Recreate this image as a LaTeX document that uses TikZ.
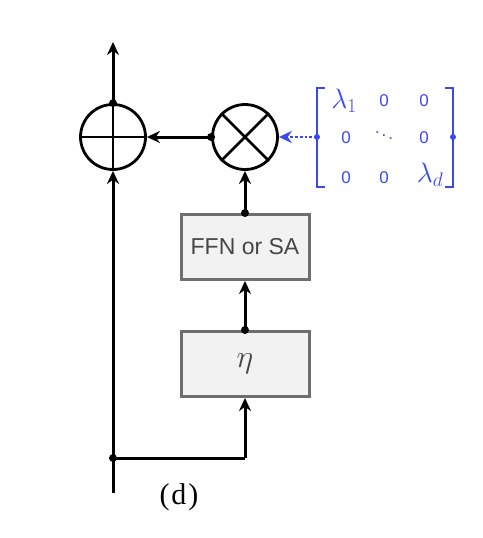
\RequirePackage{fix-cm}
\documentclass[tikz,border=0pt]{standalone}
\usepackage{fontspec}
\setmainfont{Liberation Serif}
\setsansfont{Liberation Sans}
\usetikzlibrary{arrows.meta}
\definecolor{mblue}{RGB}{58,72,240}
\definecolor{boxfill}{RGB}{242,242,242}
\definecolor{boxline}{RGB}{110,110,110}
\definecolor{txtgray}{RGB}{70,70,70}
\tikzset{
  wire/.style={line width=3pt,black},
  arr/.style={wire,-{Stealth[length=13pt,width=12pt]}},
  opcirc/.style={circle,draw,line width=2.8pt,minimum size=65pt,inner sep=0pt},
  blockbox/.style={draw=boxline,fill=boxfill,line width=3pt,minimum width=128pt,minimum height=65pt,inner sep=0pt,text=txtgray},
  jdot/.style={circle,fill,inner sep=0pt,minimum size=8pt},
  mentry/.style={text=mblue,font=\sffamily\fontsize{17}{17}\selectfont},
}
\begin{document}
\begin{tikzpicture}[x=1pt,y=-1pt]
\useasboundingbox (0,0) rectangle (482,538);
% operators
\node[opcirc] (plus) at (113,137) {};
\node[opcirc] (times) at (245,137) {};
\draw[line width=2.8pt] (plus.west) -- (plus.east);
\draw[line width=2.8pt] (plus.north) -- (plus.south);
\draw[line width=2.8pt] (times.north west) -- (times.south east);
\draw[line width=2.8pt] (times.north east) -- (times.south west);
% blocks
\node[blockbox,font=\sffamily\fontsize{23}{23}\selectfont] (ffn) at (245,247) {FFN or SA};
\node[blockbox,font=\fontsize{32}{32}\selectfont] (eta) at (245,364) {$\eta$};
% coordinates
\coordinate (top) at (113,42);
\coordinate (bot) at (113,493);
\coordinate (split) at (113,458);
\coordinate (corner) at (245,458);
% connectors
\draw[wire] (bot) -- (split);
\draw[arr] (split) -- (plus.south);
\draw[arr] (plus.north) -- (top);
\draw[wire] (split) -- (corner);
\draw[arr] (corner) -- (eta.south);
\draw[arr] (eta.north) -- (ffn.south);
\draw[arr] (ffn.north) -- (times.south);
\draw[arr] (times.west) -- (plus.east);
\node[jdot] at (plus.north) {};
\node[jdot] at (split) {};
\node[jdot] at (eta.north) {};
\node[jdot] at (ffn.north) {};
\node[jdot] at (times.west) {};
% matrix
\coordinate (lbt) at (317,88);
\coordinate (lbb) at (317,187);
\coordinate (rbt) at (453,88);
\coordinate (rbb) at (453,187);
\draw[mblue,line width=2.6pt] ([xshift=8pt]lbt) -- (lbt) -- (lbb) -- ([xshift=8pt]lbb);
\draw[mblue,line width=2.6pt] ([xshift=-8pt]rbt) -- (rbt) -- (rbb) -- ([xshift=-8pt]rbb);
\coordinate (lmid) at (317,137);
\coordinate (rmid) at (453,137);
\node[jdot,mblue,minimum size=6pt] at (lmid) {};
\node[jdot,mblue,minimum size=6pt] at (rmid) {};
\draw[mblue,line width=2.8pt,dotted,-{Stealth[length=13pt,width=12pt]}] (lmid) -- (times.east);
\node[mentry,font=\fontsize{28}{28}\selectfont] (l1) at (344,101) {$\lambda_1$};
\node[mentry] (m12) at (384,101) {0};
\node[mentry] (m13) at (424,101) {0};
\node[mentry] (m21) at (346,138) {0};
\node[mentry] (m22) at (384,133) {$\ddots$};
\node[mentry] (m23) at (424,138) {0};
\node[mentry] (m31) at (346,178) {0};
\node[mentry] (m32) at (384,178) {0};
\node[mentry,font=\fontsize{28}{28}\selectfont] (ld) at (430,175) {$\lambda_d$};
% caption
\node[font=\fontsize{30}{30}\selectfont,text=black] (cap) at (179,497) {(\kern2pt d\kern2pt)};
\end{tikzpicture}
\end{document}
